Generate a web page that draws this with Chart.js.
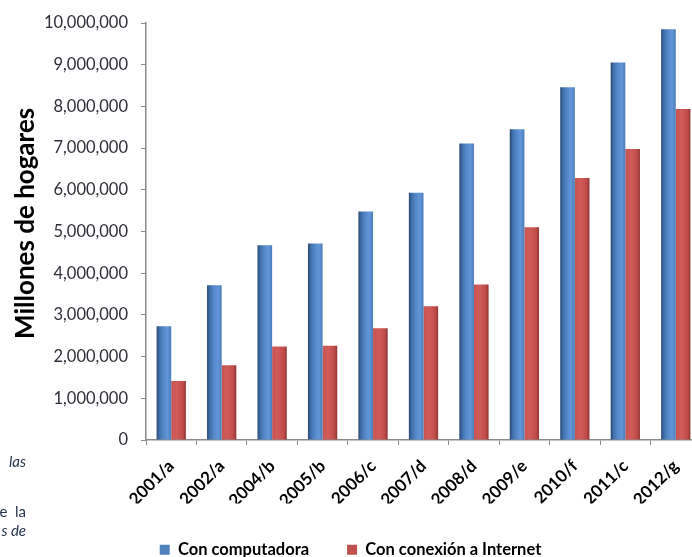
<!DOCTYPE html>
<html>
<head>
<meta charset="utf-8">
<script src="https://cdn.jsdelivr.net/npm/chart.js@4"></script>
<style>
  html, body { margin: 0; padding: 0; background: #fff; overflow: hidden; }
  #wrap { position: relative; width: 692px; height: 557px; overflow: hidden; }
  #chart { position: absolute; left: 0; top: 0; }
  .frag { position: absolute; right: 666px; font-family: Lato, sans-serif; font-size: 15px; color: #27344f; white-space: nowrap; }
</style>
</head>
<body>
<div id="wrap">
  <canvas id="chart" width="706" height="557"></canvas>
  <div class="frag" style="top:452px;font-style:italic">las</div>
  <div class="frag" style="top:502px">e&nbsp;&nbsp;la</div>
  <div class="frag" style="top:521px;font-style:italic">s de</div>
</div>
<script>
// Data
const years = ['2001/a', '2002/a', '2004/b', '2005/b', '2006/c', '2007/d', '2008/d', '2009/e', '2010/f', '2011/c', '2012/g'];
const withComputer = [2730000, 3710000, 4670000, 4710000, 5480000, 5930000, 7110000, 7450000, 8460000, 9050000, 9850000];
const withInternet = [1415000, 1790000, 2240000, 2260000, 2680000, 3210000, 3730000, 5100000, 6280000, 6980000, 7940000];
const yTicks = [0, 1000000, 2000000, 3000000, 4000000, 5000000, 6000000, 7000000, 8000000, 9000000, 10000000];

const CAT_PCT = 0.58;
const font = 'Lato';

// Shading for the pseudo 3D bars
const blueStops = [[0, '#27466f'], [0.18, '#3f6ea8'], [0.45, '#5387c8'], [0.75, '#6296d8'], [1, '#4b7cb8']];
const redStops = [[0, '#c85452'], [0.4, '#d05b58'], [0.8, '#bf4c49'], [1, '#8f3331']];

const barFill = (stops, flat) => ctx => {
  const chart = ctx.chart;
  const x = chart.scales && chart.scales.x;
  if (!chart.chartArea || !x || ctx.type !== 'data') return flat;
  const cat = x.getPixelForValue(1) - x.getPixelForValue(0);
  const barW = (cat * CAT_PCT) / 2;
  const c = x.getPixelForValue(ctx.dataIndex);
  const left = ctx.datasetIndex === 0 ? c - barW : c;
  const g = chart.ctx.createLinearGradient(left, 0, left + barW, 0);
  stops.forEach(([o, col]) => g.addColorStop(o, col));
  return g;
};

const flatColors = ['#4f81bd', '#c0504d'];
const PLOT_LEFT = 146;
const PLOT_BOTTOM = 440;
const PAD_BOTTOM = -11;

new Chart(document.getElementById('chart'), {
  type: 'bar',
  data: {
    labels: years,
    datasets: [
      {
        label: 'Con computadora',
        data: withComputer,
        backgroundColor: barFill(blueStops, flatColors[0]),
        borderWidth: 0,
        categoryPercentage: CAT_PCT,
        barPercentage: 1,
      },
      {
        label: 'Con conexión a Internet',
        data: withInternet,
        backgroundColor: barFill(redStops, flatColors[1]),
        borderWidth: 0,
        categoryPercentage: CAT_PCT,
        barPercentage: 1,
      },
    ],
  },
  options: {
    responsive: false,
    animation: false,
    layout: { padding: { top: 23, right: 5, left: 0, bottom: PAD_BOTTOM } },
    plugins: {
      tooltip: { enabled: false },
      legend: {
        position: 'bottom',
        labels: {
          color: '#000',
          boxWidth: 10,
          boxHeight: 10,
          padding: 38,
          font: { family: font, size: 16.5, weight: 'bold' },
          generateLabels: chart =>
            Chart.defaults.plugins.legend.labels.generateLabels(chart).map((l, i) => ({
              ...l,
              fillStyle: flatColors[i],
              strokeStyle: flatColors[i],
              lineWidth: 0,
            })),
        },
      },
    },
    scales: {
      x: {
        grid: {
          display: true,
          offset: true,
          drawOnChartArea: false,
          drawTicks: true,
          tickLength: 5,
          color: '#8a8a8a',
        },
        border: { color: '#8a8a8a', width: 1.5 },
        ticks: {
          autoSkip: false,
          minRotation: 45,
          maxRotation: 45,
          padding: 11,
          color: '#000',
          font: { family: font, size: 17, weight: 'bold' },
        },
        afterFit: s => {
          const lg = s.chart.legend ? s.chart.legend.height : 0;
          s.height = 557 - PLOT_BOTTOM - lg - PAD_BOTTOM;
        },
      },
      y: {
        min: 0,
        max: 10000000,
        afterBuildTicks: s => {
          s.ticks = yTicks.map(v => ({ value: v }));
        },
        grid: {
          display: true,
          drawOnChartArea: false,
          drawTicks: true,
          tickLength: 5,
          color: '#8a8a8a',
        },
        border: { color: '#8a8a8a', width: 1.5 },
        ticks: {
          padding: 13,
          color: '#2e2e38',
          font: { family: font, size: 16.5 },
          callback: v => v.toLocaleString('en-US'),
        },
        title: {
          display: true,
          text: '\u2002\u2009Millones de hogares',
          color: '#000',
          padding: { top: 10, bottom: 0 },
          font: { family: font, size: 26, weight: 'bold' },
        },
        afterFit: s => {
          s.width = PLOT_LEFT;
        },
      },
    },
  },
});
</script>
</body>
</html>
